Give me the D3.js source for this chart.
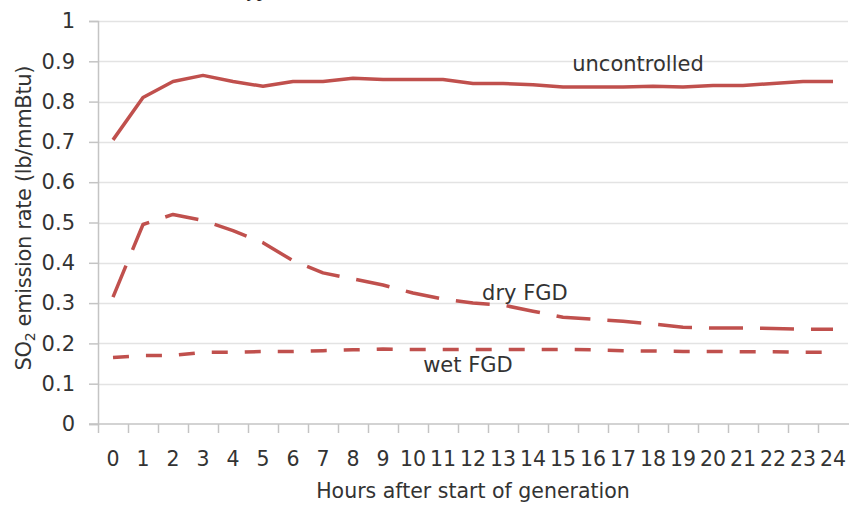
<!DOCTYPE html>
<html>
<head>
<meta charset="utf-8">
<script src="https://cdn.jsdelivr.net/npm/d3@7"></script>
<style>
  body { margin: 0; background: #fff; }
  text { font-family: "DejaVu Sans", sans-serif; fill: #333; }
</style>
</head>
<body>
<div id="chart"></div>
<script>
// hours after start of generation
var hours = d3.range(0, 25);
var yTicks = [0, 0.1, 0.2, 0.3, 0.4, 0.5, 0.6, 0.7, 0.8, 0.9, 1];

// SO2 emission rate, lb/mmBtu
var uncontrolled = [0.705, 0.81, 0.85, 0.865, 0.85, 0.838, 0.85, 0.85, 0.858, 0.855, 0.855, 0.855, 0.845,
                    0.845, 0.842, 0.836, 0.836, 0.836, 0.838, 0.836, 0.84, 0.84, 0.845, 0.85, 0.85];
var dryFGD = [0.315, 0.495, 0.52, 0.505, 0.48, 0.45, 0.405, 0.375, 0.36, 0.345, 0.325, 0.31, 0.3,
              0.295, 0.28, 0.265, 0.26, 0.255, 0.248, 0.24, 0.238, 0.238, 0.237, 0.235, 0.235];
var wetFGD = [0.165, 0.17, 0.17, 0.178, 0.178, 0.18, 0.18, 0.182, 0.184, 0.186, 0.185, 0.185, 0.185,
              0.185, 0.185, 0.185, 0.184, 0.182, 0.181, 0.18, 0.18, 0.179, 0.179, 0.178, 0.178];

var width = 849, height = 508;
var margin = {top: 21, right: 1, bottom: 84, left: 98};

var svg = d3.select("#chart").append("svg")
    .attr("width", width)
    .attr("height", height);

var x = d3.scaleBand()
    .domain(hours)
    .range([margin.left, width - margin.right])
    .padding(0);

// fractional hour -> pixel, for the in-chart labels
var xPos = function(h) { return x(0) + x.bandwidth() * (h + 0.5); };

var y = d3.scaleLinear()
    .domain([0, 1])
    .range([height - margin.bottom, margin.top]);

// clipped caption from the page above the chart
svg.append("text")
    .attr("x", 236)
    .attr("y", -4)
    .style("font-family", "'Liberation Serif', serif")
    .style("font-size", "20px")
    .style("fill", "#222")
    .text("Typ");

// gridlines
svg.append("g")
  .selectAll("line")
  .data(yTicks.slice(1))
  .enter().append("line")
    .attr("x1", margin.left)
    .attr("x2", width - margin.right)
    .attr("y1", function(d) { return Math.round(y(d)) + 0.5; })
    .attr("y2", function(d) { return Math.round(y(d)) + 0.5; })
    .attr("stroke", "#e3e3e3")
    .attr("stroke-width", 1.5);

// y axis
var yAxis = svg.append("g")
    .attr("transform", "translate(" + margin.left + ",0)")
    .call(d3.axisLeft(y).tickValues(yTicks).tickSize(9).tickPadding(14)
      .tickFormat(function(d) { return d === 0 || d === 1 ? d3.format("d")(d) : d3.format(".1f")(d); }));
yAxis.select(".domain").attr("stroke", "#c4c4c4").attr("stroke-width", 1.5);
yAxis.selectAll(".tick line").attr("stroke", "#c4c4c4").attr("stroke-width", 1.5);
yAxis.selectAll("text").style("font-size", "21px").attr("fill", "#333")
    .style("font-family", "'DejaVu Sans', sans-serif");

// x axis: ticks between categories
var xAxis = svg.append("g")
    .attr("transform", "translate(0," + (height - margin.bottom) + ")");
xAxis.append("line")
    .attr("x1", margin.left - 9)
    .attr("x2", width)
    .attr("stroke", "#c4c4c4")
    .attr("stroke-width", 1.5);
xAxis.selectAll("line.tk")
  .data(hours)
  .enter().append("line")
    .attr("class", "tk")
    .attr("x1", function(d) { return Math.round(x(d)) + 0.5; })
    .attr("x2", function(d) { return Math.round(x(d)) + 0.5; })
    .attr("y1", 0)
    .attr("y2", 9)
    .attr("stroke", "#c4c4c4")
    .attr("stroke-width", 1.5);
xAxis.selectAll("text")
  .data(hours)
  .enter().append("text")
    .attr("x", function(d) { return x(d) + x.bandwidth() / 2; })
    .attr("y", 42)
    .attr("text-anchor", "middle")
    .style("font-size", "20.5px")
    .text(function(d) { return d; });

// axis titles
svg.append("text")
    .attr("x", (margin.left + width - margin.right) / 2)
    .attr("y", 498)
    .attr("text-anchor", "middle")
    .style("font-size", "20.5px")
    .text("Hours after start of generation");

var yt = svg.append("text")
    .attr("transform", "translate(31,218) rotate(-90)")
    .attr("text-anchor", "middle")
    .attr("textLength", 305)
    .attr("lengthAdjust", "spacing")
    .style("font-size", "21px");
yt.append("tspan").text("SO");
yt.append("tspan").attr("dy", 4).style("font-size", "14px").text("2");
yt.append("tspan").attr("dy", -4).text(" emission rate (lb/mmBtu)");

// lines
var line = d3.line()
    .x(function(d, i) { return x(hours[i]) + x.bandwidth() / 2; })
    .y(function(d) { return y(d); });

var series = [
  {name: "uncontrolled", values: uncontrolled, dash: null},
  {name: "dry FGD", values: dryFGD, dash: "34,17"},
  {name: "wet FGD", values: wetFGD, dash: "16,17"}
];

svg.selectAll("path.series")
  .data(series)
  .enter().append("path")
    .attr("class", "series")
    .attr("d", function(d) { return line(d.values); })
    .attr("fill", "none")
    .attr("stroke", "#c0504d")
    .attr("stroke-width", 3.5)
    .attr("stroke-linejoin", "round")
    .attr("stroke-dasharray", function(d) { return d.dash; });

// series labels
var labels = [
  {text: "uncontrolled", hour: 17.5, value: 0.876},
  {text: "dry FGD", hour: 13.73, value: 0.308},
  {text: "wet FGD", hour: 11.83, value: 0.129}
];
svg.selectAll("text.lbl")
  .data(labels)
  .enter().append("text")
    .attr("class", "lbl")
    .attr("x", function(d) { return xPos(d.hour); })
    .attr("y", function(d) { return y(d.value); })
    .attr("text-anchor", "middle")
    .style("font-size", "21px")
    .text(function(d) { return d.text; });
</script>
</body>
</html>
